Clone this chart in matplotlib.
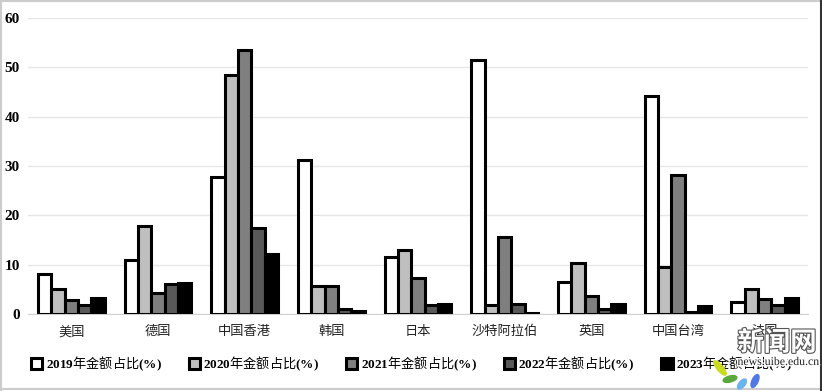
import matplotlib
matplotlib.use("Agg")
import matplotlib.pyplot as plt
import matplotlib.patheffects as pe
from matplotlib.patches import Ellipse
import numpy as np

plt.rcParams['font.family'] = ['Noto Sans CJK SC', 'DejaVu Sans']
plt.rcParams['mathtext.fontset'] = 'custom'
plt.rcParams['mathtext.rm'] = 'Noto Sans CJK SC'
plt.rcParams['mathtext.bf'] = 'Liberation Serif:bold'
plt.rcParams['mathtext.default'] = 'rm'

categories = ['美国', '德国', '中国香港', '韩国', '日本', '沙特阿拉伯', '英国', '中国台湾', '法国']
share_2019 = [8.2, 11.0, 27.8, 31.2, 11.6, 51.5, 6.4, 44.2, 2.4]
share_2020 = [5.1, 17.9, 48.4, 5.7, 13.0, 1.9, 10.4, 9.6, 5.1]
share_2021 = [2.8, 4.2, 53.6, 5.7, 7.2, 15.7, 3.6, 28.2, 3.0]
share_2022 = [1.8, 6.0, 17.5, 1.0, 1.9, 2.1, 1.0, 0.4, 1.9]
share_2023 = [3.3, 6.2, 12.2, 0.6, 2.1, 0.3, 2.0, 1.7, 3.3]
series = [share_2019, share_2020, share_2021, share_2022, share_2023]
years = ['2019', '2020', '2021', '2022', '2023']
colors = ['#ffffff', '#bfbfbf', '#7f7f7f', '#595959', '#000000']
yticks = [0, 10, 20, 30, 40, 50, 60]

W, H = 822, 391
fig = plt.figure(figsize=(W / 100, H / 100), dpi=100, facecolor='white')
ax = fig.add_axes([28 / W, 1 - 314 / H, 780 / W, 296 / H])

x = np.arange(len(categories))
bw = 0.154
for i, (vals, c, yr) in enumerate(zip(series, colors, years)):
    ax.bar(x + (i - 2) * bw, vals, bw, color=c, edgecolor='black', linewidth=2.2,
           label=rf'$\mathbf{{{yr}}}$年金额占比$\mathbf{{(\%)}}$', zorder=3)

ax.set_xlim(-0.5, len(categories) - 0.5)
ax.set_ylim(0, 60)
ax.set_yticks(yticks)
ax.set_yticklabels([str(t) for t in yticks], family='Liberation Serif', weight='bold', fontsize=11)
ax.set_xticks(x)
ax.set_xticklabels(categories, fontsize=9.5, color='#222222')
ax.tick_params(axis='both', length=0)
ax.tick_params(axis='x', pad=8)
ax.tick_params(axis='y', pad=6)
ax.grid(axis='y', color='#e6e6e6', linewidth=1, zorder=0)
for s in ['top', 'right', 'left']:
    ax.spines[s].set_visible(False)
ax.spines['bottom'].set_color('#d0d0d0')
ax.set_axisbelow(True)

leg = fig.legend(loc='lower left', bbox_to_anchor=(31 / W, 18 / H), ncol=5, frameon=False,
                 fontsize=9.5, handlelength=0.85, handleheight=0.85, handletextpad=0.25,
                 columnspacing=2.05, borderpad=0, borderaxespad=0)

# image frame
fig.add_artist(plt.Line2D([0.5 / W, 0.5 / W], [0, 1], color='#cccccc', lw=1.5))
fig.add_artist(plt.Line2D([0, 1], [1 - 0.5 / H, 1 - 0.5 / H], color='#cccccc', lw=1.5))
fig.add_artist(plt.Line2D([0, 1], [1 - 388.5 / H, 1 - 388.5 / H], color='#cccccc', lw=1.5))
fig.add_artist(plt.Line2D([820.5 / W, 820.5 / W], [0, 1], color='#333333', lw=1.5))

# watermark
fig.text(777 / W, 1 - 343 / H, '新闻网', fontsize=19, ha='center', va='center', color='white',
         weight='bold', path_effects=[pe.withStroke(linewidth=1.6, foreground='#555555')], zorder=10)
fig.text(778 / W, 1 - 362 / H, 'news.uibe.edu.cn', fontsize=8.5, ha='center', va='center',
         family='Liberation Serif', color='#222222',
         path_effects=[pe.withStroke(linewidth=2, foreground='white')], zorder=10)
for cx, cy, w, h, a, col in [(720, 368, 18, 6, -50, '#c8dc1e'), (730, 379, 14, 6, 15, '#5aa83c'),
                             (742, 384, 12, 6, 50, '#6ab4f0'), (755, 381, 14, 6, 65, '#5078e6')]:
    fig.add_artist(Ellipse((cx, H - cy), w, h, angle=a, color=col, transform=None, zorder=11))

fig.savefig('out.png', dpi=100, facecolor='white')
